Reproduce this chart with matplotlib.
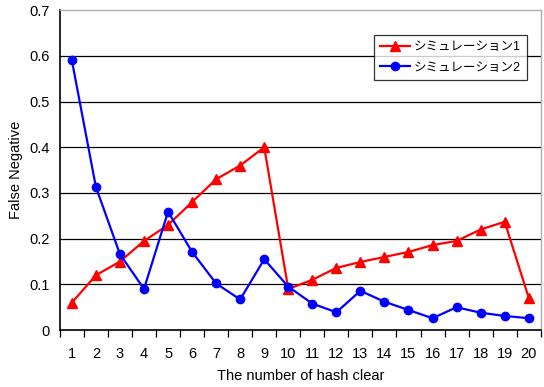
import numpy as np
import matplotlib.pyplot as plt

plt.rcParams['font.family'] = ['Liberation Sans', 'Noto Sans CJK JP', 'DejaVu Sans']

hash_clear = list(range(1, 21))
sim1 = [0.06, 0.12, 0.15, 0.195, 0.23, 0.28, 0.33, 0.36, 0.40, 0.09,
        0.11, 0.136, 0.149, 0.16, 0.171, 0.186, 0.195, 0.22, 0.237, 0.071]
sim2 = [0.59, 0.313, 0.166, 0.09, 0.259, 0.171, 0.102, 0.067, 0.155, 0.095,
        0.058, 0.039, 0.086, 0.062, 0.044, 0.026, 0.05, 0.038, 0.031, 0.026]
y_ticks = [0, 0.1, 0.2, 0.3, 0.4, 0.5, 0.6, 0.7]
y_tick_labels = ["0", "0.1", "0.2", "0.3", "0.4", "0.5", "0.6", "0.7"]


def plot_chart(save_path):
    fig = plt.figure(figsize=(5.44, 3.87), dpi=100)
    ax = fig.add_axes([0.110, 0.147, 0.884, 0.827])

    for v in y_ticks[1:-1]:
        ax.axhline(v, color="black", linewidth=0.9, zorder=1)

    ax.plot(hash_clear, sim1, color="#ff0000", marker="^", markersize=7.5,
            linewidth=1.6, label="シミュレーション1", zorder=3)
    ax.plot(hash_clear, sim2, color="#0000ff", marker="o", markersize=6,
            linewidth=1.6, label="シミュレーション2", zorder=3)

    ax.set_xlim(0.5, 20.5)
    ax.set_ylim(0, 0.7)

    ax.set_xticks(np.arange(0.5, 21, 1))
    ax.set_xticklabels([])
    ax.tick_params(axis="x", which="major", direction="out", length=5,
                   width=0.9, color="black")
    ax.set_xticks(hash_clear, minor=True)
    ax.set_xticklabels([str(i) for i in hash_clear], minor=True)
    ax.tick_params(axis="x", which="minor", length=0, pad=12, labelsize=10.5)

    ax.set_yticks(y_ticks)
    ax.set_yticklabels(y_tick_labels)
    ax.tick_params(axis="y", length=0, pad=7, labelsize=10.5)

    for side in ["left", "bottom"]:
        ax.spines[side].set_color("black")
        ax.spines[side].set_linewidth(1.2)
    for side in ["top", "right"]:
        ax.spines[side].set_color("#b0b0b0")
        ax.spines[side].set_linewidth(1.0)

    ax.set_xlabel("The number of hash clear", fontsize=10.5, labelpad=6)
    ax.set_ylabel("False Negative", fontsize=10.5, labelpad=5)

    leg = ax.legend(loc="upper right", bbox_to_anchor=(0.972, 0.923),
                    fontsize=9, frameon=True, fancybox=False,
                    handlelength=2.4, handletextpad=0.3, borderpad=0.5,
                    labelspacing=0.7, borderaxespad=0)
    leg.get_frame().set_edgecolor("black")
    leg.get_frame().set_linewidth(0.9)

    fig.savefig(save_path, dpi=100)


if __name__ == "__main__":
    plot_chart("out.png")
